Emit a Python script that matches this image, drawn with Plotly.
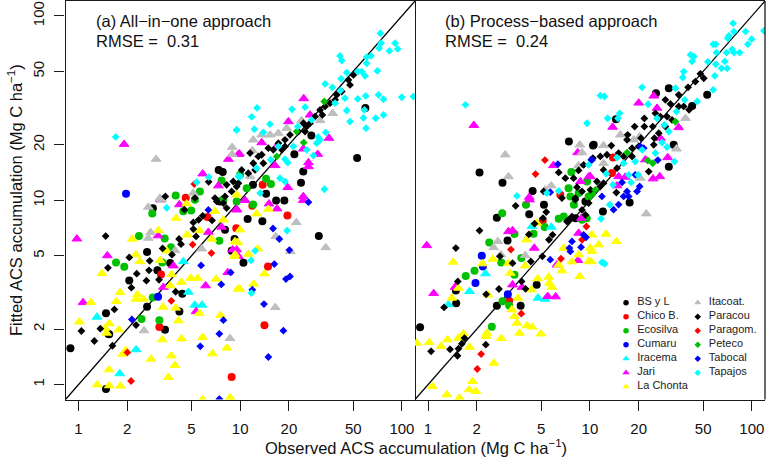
import plotly.graph_objects as go

# Values are (log10 observed, log10 fitted) ACS accumulation.
SITES = ["BS y L", "Chico B.", "Ecosilva", "Cumaru", "Iracema", "Jari", "La Chonta",
         "Itacoat.", "Paracou", "Paragom.", "Peteco", "Tabocal", "Tapajos"]
COLORS = ["#000000", "#ff0000", "#00c000", "#0000ff", "#00ffff", "#ff00ff", "#ffff00",
          "#bebebe", "#000000", "#ff0000", "#00c000", "#0000ff", "#00ffff"]
SYMBOLS = ["circle"] * 4 + ["triangle-up"] * 4 + ["diamond"] * 5
SIZES = [8] * 4 + [8.5] * 4 + [6] * 5
EDGES = [0] * 4 + [1] * 4 + [0] * 5
KEY_SIZES = [5.5] * 4 + [6.5] * 4 + [5] * 5
TICKS = [1, 2, 5, 10, 20, 50, 100]

a_bsyl = [(-0.05,0.197),(0.17,0.388),(0.185,0.275),(0.19,0.273),(0.314,0.565),(0.424,0.72),(0.488,0.62),
 (0.424,0.423),(0.535,0.298),(0.642,0.493),(0.624,0.397),(0.17,-0.023),(0.46,0.957),(0.567,0.66),(0.906,0.84),
 (0.965,0.79),(0.947,0.726),(0.875,0.994),(1.046,0.898),(1.137,0.887),(1.02,0.661),(1.486,0.806),(1.222,0.999),
 (1.273,0.999),(1.723,1.23),(1.774,1.5),(1.44,1.351),(1.376,1.095),(1.079,1.084),(1.335,1.25),(1.39,1.156),
 (1.16,1.035),(0.867,1.165),(0.892,1.154)]
a_chico = [(0.947,0.042),(0.5,0.313),(0.51,0.598),(1.292,0.918),(1.172,0.641),(1.15,0.322),(1.075,0.97),
 (1.139,1.084),(0.976,0.849),(0.797,0.909),(0.663,1.014)]
a_ecos = [(0.374,0.806),(0.232,0.663),(0.283,0.64),(0.456,0.929),(0.533,0.793),(0.39,0.356),(0.5,0.35),
 (0.459,0.473),(0.697,0.945),(0.648,0.94),(0.572,0.746),(0.518,0.663),(0.871,0.78),(0.72,1.003),(0.601,1.026),
 (0.751,1.048),(0.885,1.107),(0.896,1.006),(1.19,1.088),(1.16,1.117),(1.04,1.066),(1.0,1.138),(0.978,0.994),(1.08,0.977)]
a_cuma = [(0.294,1.035),(0.492,0.477)]
a_irac = [(0.114,0.367),(0.255,0.06),(0.356,0.19),(0.68,0.502),(0.719,0.432),(0.764,0.432),(0.648,0.668)]
a_jari = [(-0.01,0.791),(0.178,0.7),(0.028,0.446),(0.492,0.808),(0.525,0.529),(0.587,0.645),(0.624,0.977),
 (0.786,0.537),(0.803,0.827),(0.885,0.855),(0.923,0.609),(0.727,0.397),(0.978,0.948),(0.508,1.003),(0.953,0.732),
 (0.282,1.304),(0.768,1.144),(0.927,1.223),(0.989,1.25),(0.865,1.079),(1.393,1.552),(1.298,1.427),(1.549,1.337),
 (1.479,1.25),(1.422,1.205),(1.422,1.183),(1.294,1.07),(1.215,1.189),(0.995,1.252),(1.39,1.021),(1.133,1.313),
 (1.226,1.292),(1.432,1.463),(1.39,1.279),(1.178,0.981),(1.228,0.954),(1.39,1.0),(1.03,1.0),(0.978,0.952),
 (0.978,0.732),(0.989,0.696)]
a_chon = [(0.116,0.0),(0.19,-0.005),(0.259,-0.007),(0.189,0.081),(0.275,0.166),(0.292,0.186),(0.448,0.139),
 (0.556,0.04),(0.574,0.157),(0.597,0.105),(0.637,0.249),(0.518,0.244),(0.828,0.168),(0.768,0.257),(0.918,0.199),
 (0.937,-0.07),(0.768,-0.08),(0.618,0.347),(0.601,0.416),(0.523,0.421),(0.747,0.388),(0.879,0.376),(0.005,0.341),
 (0.077,0.446),(0.191,0.331),(0.164,0.307),(0.174,0.28),(0.25,0.298),(0.234,0.452),(0.257,0.5),(0.364,0.488),
 (0.356,0.464),(0.401,0.464),(0.145,0.603),(0.356,0.705),(0.38,0.668),(0.333,0.79),(0.494,0.836),(0.504,0.674),
 (0.545,0.726),(0.576,0.598),(0.567,0.537),(0.637,0.556),(0.694,0.578),(0.737,0.578),(0.851,0.573),(0.986,0.519),
 (0.604,0.903),(0.673,0.813),(0.747,0.836),(0.824,0.79),(0.896,0.894),(0.968,0.777),(0.964,0.696),(0.844,0.94),
 (0.669,0.981),(0.997,0.519),(1.083,0.546),(1.15,0.602),(1.05,0.708),(1.108,0.737),(0.985,0.771),(0.999,0.84),
 (1.102,0.927),(1.174,0.952),(0.968,0.705),(0.978,1.03)]
a_itac = [(0.48,1.223),(0.95,1.288),(0.95,1.25),(0.71,1.039),(0.504,1.012),(0.432,0.963),(0.432,0.795),(0.446,0.826),
 (0.597,0.728),(0.762,0.737),(0.405,0.293),(0.937,0.251),(0.514,1.003),(1.347,0.88),(1.22,0.804),(1.31,0.723),
 (1.529,0.744),(1.217,0.419),(1.572,1.472),(1.081,1.328),(1.133,1.355),(1.185,1.355),(1.236,1.364),(1.288,1.391),
 (1.38,1.433),(1.494,1.433),(1.075,1.27),(1.061,1.129)]
a_para = [(0.168,0.806),(0.314,0.69),(0.182,0.634),(0.36,0.602),(0.44,0.672),(0.436,0.62),(0.42,0.564),(0.498,0.569),
 (0.327,0.526),(0.222,0.408),(0.018,0.291),(0.098,0.237),(0.135,0.304),(0.21,0.211),(0.356,0.323),(0.601,0.504),
 (0.52,0.739),(0.578,0.705),(0.622,0.79),(0.634,0.762),(0.655,0.949),(0.71,0.88),(0.71,0.844),(0.727,0.804),
 (0.743,0.894),(0.768,0.916),(0.826,0.891),(0.855,0.994),(0.896,0.985),(0.916,0.958),(0.537,1.021),(0.805,1.1),
 (0.72,1.012),(0.844,1.012),(0.916,1.084),(0.957,1.102),(0.978,1.075),(0.947,1.048),(0.906,1.021),(1.05,1.147),
 (1.081,1.201),(1.112,1.238),(1.143,1.201),(1.061,1.256),(1.174,1.283),(1.205,1.274),(1.236,1.31),(1.277,1.328),
 (1.308,1.355),(1.36,1.373),(1.391,1.418),(1.411,1.4),(1.463,1.454),(1.494,1.49),(1.525,1.509),(1.587,1.545),
 (1.628,1.59),(1.679,1.626),(1.7,1.68),(1.669,1.653),(1.009,1.165),(1.092,1.165),(0.989,1.093),(1.257,1.274),
 (1.401,1.373),(1.432,1.418),(1.508,1.463),(1.556,1.527),(1.277,1.292),(1.133,1.247),(1.597,1.572)]
a_parg = [(0.302,0.175),(0.325,0.02),(0.574,0.455),(0.716,1.088),(0.706,0.76),(0.822,0.714)]
a_pete = [(1.52,1.536),(1.393,1.313),(1.226,1.238),(1.349,1.373)]
a_tabo = [(0.33,0.354),(0.758,0.647),(0.883,0.544),(0.941,0.609),(0.896,0.35),(0.871,0.276),(0.753,0.208),(0.803,0.948),
 (0.871,-0.078),(1.203,0.847),(1.242,0.79),(1.304,0.73),(1.211,0.654),(1.308,0.587),(1.283,0.573),(1.075,0.515),
 (1.147,0.437),(1.267,0.293),(1.174,0.15),(1.422,0.99)]
a_tapa = [(0.23,1.344),(0.978,1.382),(0.731,1.098),(0.805,1.126),(0.989,1.129),(0.545,0.959),(1.867,1.906),(1.871,1.852),
 (1.859,1.825),(1.923,1.81),(1.958,1.852),(1.974,1.821),(1.617,1.783),(1.628,1.758),(1.782,1.776),(1.809,1.783),
 (1.782,1.743),(1.727,1.698),(1.752,1.698),(1.772,1.675),(1.848,1.702),(1.659,1.693),(1.624,1.659),(1.525,1.631),
 (1.57,1.612),(1.855,1.572),(1.886,1.548),(1.999,1.559),(2.071,1.563),(1.776,1.566),(1.727,1.55),(1.648,1.554),
 (1.62,1.595),(1.659,1.487),(1.768,1.49),(1.762,1.447),(1.838,1.445),(1.886,1.463),(1.679,1.427),(1.778,1.391),
 (1.104,1.501),(1.071,1.453),(1.321,1.494),(1.401,1.505),(1.184,1.413),(1.088,1.386),(0.978,1.382),(1.143,1.368),
 (1.529,1.368),(1.483,1.342),(1.494,1.328),(1.473,1.31),(1.356,1.4),(1.442,1.436),(1.329,1.292),(1.411,1.274),
 (1.453,1.243),(1.277,1.223),(1.294,1.205),(1.246,1.12),(1.277,1.102),(1.521,1.06),(1.102,1.174),(0.999,1.129),
 (1.189,1.22),(1.236,1.292),(1.123,1.039),(1.587,1.527),(1.29,0.836),(1.092,0.726),(1.067,0.674),(1.069,0.497)]

b_bsyl = [(-0.049,0.311),(0.425,0.905),(0.625,0.925),(0.716,0.976),(0.491,0.782),(0.174,0.441),(0.172,0.511),
 (0.425,0.428),(0.572,0.428),(0.671,0.542),(0.91,0.903),(0.972,0.994),(0.87,1.319),(1.019,1.297),(0.318,1.151),
 (0.46,1.095),(0.646,1.051),(1.408,1.581),(1.487,1.608),(1.724,1.572),(1.631,1.512),(1.517,1.301),(1.487,1.182),
 (1.023,1.301),(1.161,1.44),(1.08,0.939),(1.245,0.988)]
b_chico = [(1.142,1.232),(0.501,0.455),(0.708,0.891),(1.136,1.148),(0.817,1.03)]
b_ecos = [(0.458,0.93),(0.605,0.976),(0.378,0.771),(0.652,0.818),(0.72,0.855),(0.534,0.817),(0.452,0.663),(0.287,0.618),
 (0.233,0.59),(0.394,0.314),(0.534,0.596),(0.576,0.687),(0.46,0.452),(0.501,0.43),(0.807,0.9),(0.838,0.912),
 (0.901,0.976),(0.951,0.894),(0.98,0.903),(0.885,1.153),(0.868,1.066),(0.879,1.021),(0.93,1.039),(0.992,1.021),
 (1.013,1.039),(0.982,1.102)]
b_cuma = [(0.293,0.551),(0.493,0.49),(0.332,0.699),(0.339,0.641)]
b_irac = [(0.355,0.602),(0.256,0.506),(0.126,0.434),(0.679,0.47),(0.724,0.464),(0.761,0.855),(0.642,0.858)]
b_jari = [(0.283,1.407),(0.774,1.189),(0.924,1.259),(0.625,1.017),(0.941,1.102),(0.994,1.129),(-0.008,0.755),(0.035,0.495),
 (0.167,0.529),(0.497,0.831),(0.522,0.836),(0.656,0.741),(0.522,0.542),(0.58,0.529),(0.739,0.479),(0.788,0.477),
 (0.627,1.003),(0.947,0.903),(0.93,0.822),(0.926,0.674),(0.796,0.65),(1.301,1.528),(1.394,1.566),(1.14,1.397),
 (1.548,1.395),(1.414,1.5),(1.48,1.232),(1.39,1.117),(1.431,1.129),(1.342,1.22),(1.177,1.129),(1.218,1.126),
 (1.167,1.079),(1.435,1.337),(1.002,1.129)]
b_chon = [(0.027,-0.009),(0.116,-0.054),(0.194,-0.072),(0.254,-0.027),(0.295,-0.036),(0.275,0.018),(0.407,0.117),
 (-0.07,0.226),(0.007,0.229),(0.081,0.208),(0.12,0.244),(0.219,0.276),(0.188,0.253),(0.256,0.204),(0.359,0.262),
 (0.363,0.28),(0.452,0.251),(0.565,0.28),(0.611,0.32),(0.642,0.313),(0.697,0.276),(0.549,0.334),(0.534,0.37),
 (0.518,0.407),(0.555,0.47),(0.37,0.488),(0.147,0.47),(0.188,0.524),(0.155,0.665),(0.336,0.656),(0.4,0.681),
 (0.508,0.605),(0.6,0.645),(0.677,0.575),(0.638,0.515),(0.745,0.584),(0.749,0.551),(0.765,0.529),(0.937,0.587),
 (0.827,0.618),(0.807,0.65),(0.889,0.667),(0.992,0.668),(0.607,0.786),(0.838,0.741),(1.002,0.741),(0.93,0.705),
 (0.497,0.659),(0.672,0.876),(1.099,0.817),(1.163,0.777),(1.054,0.759),(1.012,0.813),(1.012,0.723),(1.008,0.668)]
b_itac = [(0.477,1.247),(0.497,1.129),(0.937,1.301),(0.951,1.259),(0.761,1.079),(0.93,1.189),(0.724,1.057),(0.431,0.777),
 (0.405,0.744),(0.45,0.705),(0.6,0.701),(1.348,0.927),(1.534,1.279),(1.59,1.445),(1.084,1.297),(1.188,1.355),
 (1.084,1.201),(1.307,1.346),(1.27,1.328),(1.311,1.12)]
b_para = [(0.541,0.97),(0.318,0.836),(0.172,0.741),(0.184,0.56),(0.099,0.419),(0.019,0.181),(0.136,0.192),(0.182,0.157),
 (0.188,0.195),(0.209,0.222),(0.225,0.253),(0.357,0.217),(0.359,0.49),(0.438,0.519),(0.578,0.56),(0.602,0.52),
 (0.522,0.659),(0.635,0.668),(0.706,0.696),(0.444,0.696),(0.623,0.815),(0.658,0.873),(0.747,0.786),(0.769,0.813),
 (0.73,0.936),(0.71,0.903),(0.858,0.885),(0.889,0.912),(0.951,0.948),(0.972,0.921),(0.992,0.985),(0.91,1.003),
 (0.868,0.894),(0.807,1.151),(0.848,1.12),(0.93,1.162),(0.961,1.192),(0.899,1.12),(0.714,1.048),(0.92,1.071),
 (0.951,1.048),(1.003,1.057),(0.827,1.012),(0.91,1.012),(1.682,1.686),(1.703,1.662),(1.651,1.644),(1.606,1.613),
 (1.548,1.572),(1.466,1.545),(1.497,1.523),(1.579,1.509),(1.612,1.491),(1.548,1.509),(1.404,1.472),(1.435,1.454),
 (1.476,1.454),(1.507,1.436),(1.336,1.444),(1.336,1.4),(1.276,1.4),(1.388,1.4),(1.466,1.4),(1.398,1.337),
 (1.425,1.364),(1.229,1.328),(1.233,1.355),(1.315,1.337),(1.132,1.297),(1.301,1.292),(1.26,1.283),(1.394,1.301),
 (1.018,1.229),(1.064,1.238),(1.105,1.247),(1.177,1.256),(1.208,1.238),(1.26,1.238),(1.084,1.165),(1.167,1.174),
 (1.363,1.156),(1.043,1.102),(1.084,1.093),(1.163,1.042),(1.064,1.075)]
b_parg = [(0.722,1.218),(0.664,1.142),(0.512,0.733),(0.576,0.385),(0.328,0.166),(0.304,0.085),(0.821,0.683),(0.978,0.858),
 (0.951,0.786)]
b_pete = [(1.528,1.426),(1.357,1.216),(1.388,1.201),(1.033,1.057),(1.229,1.259)]
b_tabo = [(0.802,1.196),(1.013,1.219),(0.755,1.044),(0.755,0.678),(0.889,0.777),(0.873,0.741),(0.879,0.723),(0.945,0.746),
 (0.961,0.813),(0.976,0.799),(1.008,1.22),(1.311,1.292),(1.332,1.283),(1.419,1.218),(1.198,1.097),(1.28,1.138),
 (1.307,1.075),(1.229,1.048),(1.208,1.021),(1.239,1.021),(1.074,1.021),(1.291,1.048),(1.146,0.949),(1.177,0.977)]
b_tapa = [(0.231,1.518),(0.982,1.418),(0.549,1.024),(0.734,1.039),(0.807,1.051),(0.992,1.192),(1.884,1.96),(1.889,1.915),
 (1.961,1.915),(2.074,1.919),(1.858,1.892),(1.851,1.879),(1.998,1.874),(1.975,1.846),(1.761,1.846),(1.777,1.846),
 (1.781,1.801),(1.843,1.801),(1.878,1.819),(1.889,1.801),(1.924,1.801),(1.621,1.789),(1.641,1.78),(1.631,1.753),
 (1.728,1.751),(1.777,1.738),(1.833,1.753),(1.812,1.716),(1.847,1.716),(1.771,1.675),(1.579,1.698),(1.573,1.666),
 (1.528,1.608),(1.322,1.613),(1.761,1.599),(1.662,1.536),(1.585,1.545),(1.064,1.568),(1.089,1.563),(1.183,1.472),
 (1.173,1.445),(1.359,1.521),(1.109,1.445),(1.534,1.481),(1.487,1.373),(1.46,1.409),(1.445,1.313),(1.476,1.288),
 (1.522,1.21),(1.404,1.256),(1.414,1.445),(1.28,1.21),(1.239,1.138),(1.208,1.201),(1.254,1.097),(1.142,1.084),
 (1.101,1.144),(1.297,1.138),(1.322,1.274),(1.167,1.232),(1.068,0.9),(1.122,0.976),(1.074,0.663),(1.091,0.656)]

PANEL_A = [a_bsyl, a_chico, a_ecos, a_cuma, a_irac, a_jari, a_chon, a_itac, a_para, a_parg, a_pete, a_tabo, a_tapa]
PANEL_B = [b_bsyl, b_chico, b_ecos, b_cuma, b_irac, b_jari, b_chon, b_itac, b_para, b_parg, b_pete, b_tabo, b_tapa]

W, H = 766, 458
LOG_RANGE = [-0.0804, 2.081]
LINE = "#1a1a1a"
fig = go.Figure()

for xa, ya, panel in (("x", "y", PANEL_A), ("x2", "y", PANEL_B)):
    fig.add_trace(go.Scatter(x=[0.5, 200], y=[0.5, 200], mode="lines", xaxis=xa, yaxis=ya,
                             line=dict(color="black", width=1.3), showlegend=False, hoverinfo="skip"))
    for i, pts in enumerate(panel):
        fig.add_trace(go.Scatter(x=[10 ** p[0] for p in pts], y=[10 ** p[1] for p in pts], mode="markers",
                                 xaxis=xa, yaxis=ya, name=SITES[i], showlegend=False,
                                 marker=dict(symbol=SYMBOLS[i], size=SIZES[i], color=COLORS[i],
                                             line=dict(width=EDGES[i], color=COLORS[i]))))

# In-plot key: two columns of symbols and labels on a hidden helper axis
for i, name in enumerate(SITES):
    col, row = (0, i) if i < 7 else (1, i - 7)
    fig.add_trace(go.Scatter(x=[col], y=[row], mode="markers", xaxis="x3", yaxis="y3", showlegend=False,
                             marker=dict(symbol=SYMBOLS[i], size=KEY_SIZES[i], color=COLORS[i], line=dict(width=0))))
    fig.add_trace(go.Scatter(x=[col + 0.155], y=[row], mode="text", text=[name], textposition="middle right",
                             xaxis="x3", yaxis="y3", showlegend=False,
                             textfont=dict(family="Liberation Sans", size=11, color="#222222")))

axis = dict(type="log", range=LOG_RANGE, showgrid=False, zeroline=False, showline=True, mirror=True,
            linecolor=LINE, linewidth=1.3, tickmode="array", tickvals=TICKS, ticktext=[str(t) for t in TICKS],
            ticks="outside", ticklen=10, tickwidth=1, tickcolor=LINE,
            tickfont=dict(family="Liberation Sans", size=15, color="#111111"))

fig.update_layout(
    width=W, height=H, margin=dict(l=0, r=0, t=0, b=0), autosize=False,
    paper_bgcolor="white", plot_bgcolor="white", showlegend=False,
    xaxis=dict(axis, domain=[65.5 / W, 415 / W], anchor="y", ticklabelstandoff=5),
    xaxis2=dict(axis, domain=[415 / W, 765 / W], anchor="y", ticklabelstandoff=5),
    yaxis=dict(axis, domain=[1 - 399.5 / H, 1 - 1 / H], anchor="x", tickangle=-90, ticklabelstandoff=4),
    xaxis3=dict(domain=[600 / W, 765 / W], range=[-0.363, 1.938], visible=False, anchor="y3"),
    yaxis3=dict(domain=[1 - 395 / H, 1 - 295 / H], range=[6.59, -0.55], visible=False, anchor="x3"),
    shapes=[dict(type="line", xref="paper", yref="paper", x0=765 / W, x1=765 / W, y0=1 - 399.5 / H, y1=1 - 1 / H,
                 line=dict(color=LINE, width=1.3))],
)

def note(text, px, py, **kw):
    fig.add_annotation(text=text, x=px / W, y=1 - py / H, xref="paper", yref="paper", showarrow=False,
                       font=dict(family="Liberation Sans", size=16.5, color="#111111"), **kw)

note("(a) All−in−one approach", 93.5, 21, xanchor="left", yanchor="middle")
note("RMSE =\u00a0\u00a00.31", 93.5, 41, xanchor="left", yanchor="middle")
note("(b) Process−based approach", 443, 21, xanchor="left", yanchor="middle")
note("RMSE =\u00a0\u00a00.24", 443, 41, xanchor="left", yanchor="middle")
note("Observed ACS accumulation (Mg C ha<sup>−1</sup>)", 416, 447, xanchor="center", yanchor="middle")
note("Fitted ACS accumulation (Mg C ha<sup>−1</sup>)", 15, 200, xanchor="center", yanchor="middle", textangle=-90)

fig.write_html("out.html", config=dict(displayModeBar=False),
               post_script="document.body.style.margin='0';document.documentElement.style.overflow='hidden';")
